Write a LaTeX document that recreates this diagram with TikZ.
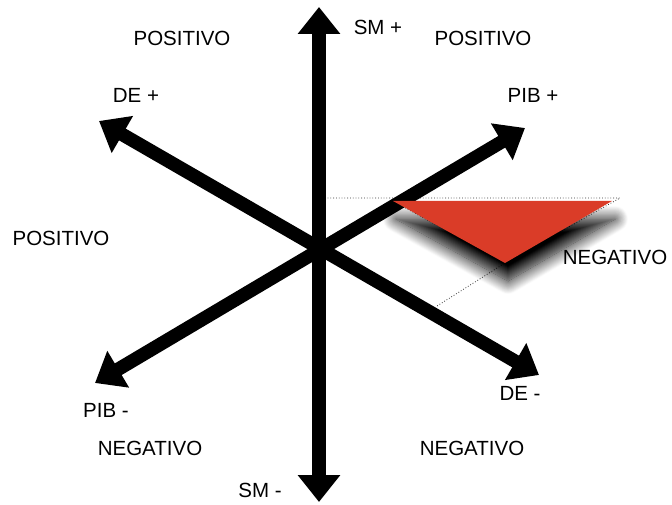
\documentclass[tikz,border=0pt]{standalone}
\usepackage{fontspec}
\setmainfont{Liberation Sans}
\usetikzlibrary{arrows.meta, shadows.blur}
\definecolor{mRed}{HTML}{DA3C28}

\begin{document}
\begin{tikzpicture}[x=1pt, y=-1pt,
  every node/.style={font=\fontsize{20.5}{24}\selectfont, inner sep=0pt},
  axis/.style={{Triangle[length=27pt,width=41pt]}-{Triangle[length=27pt,width=41pt]},
    line width=13.5pt},
  guide/.style={dotted, line width=0.8pt, black!80},
  zone/.style={fill=mRed,
    blur shadow={shadow xshift=3pt, shadow yshift=-18pt, shadow opacity=100,
      shadow blur radius=13pt, shadow blur steps=16}},
]
  \useasboundingbox (0,0) rectangle (672,505);

  \coordinate (smT)  at (319,7);
  \coordinate (smB)  at (319,502);
  \coordinate (pibT) at (525,128);
  \coordinate (pibB) at (95,383);
  \coordinate (deT)  at (99,121);
  \coordinate (deB)  at (539,375);

  \coordinate (gA) at (322,198);
  \coordinate (gB) at (620,198);
  \coordinate (gC) at (437,306);
  \coordinate (tL) at (393,201);
  \coordinate (tR) at (612,201);
  \coordinate (ap) at (505,263);

  \draw[guide] (gA) -- (gB) -- (ap) -- (gC);
  \draw[guide] (tL) -- (ap);

  \draw[axis] (smB) -- (smT);
  \draw[axis] (pibB) -- (pibT);
  \draw[axis] (deB) -- (deT);

  \fill[zone] (tL) -- (tR) -- (ap) -- cycle;

  \node (smP)   at (378,27)  {SM +};
  \node (smM)   at (260,490) {SM -};
  \node (pibP)  at (533,95)  {PIB +};
  \node (pibM)  at (106,410) {PIB -};
  \node (deP)   at (136,95)  {DE +};
  \node (deM)   at (520,393) {DE -};
  \node (posTL) at (182,38)  {POSITIVO};
  \node (posTR) at (483,38)  {POSITIVO};
  \node (posL)  at (61,238)  {POSITIVO};
  \node (negR)  at (615,257) {NEGATIVO};
  \node (negBL) at (150,448) {NEGATIVO};
  \node (negBR) at (472,448) {NEGATIVO};
\end{tikzpicture}
\end{document}
